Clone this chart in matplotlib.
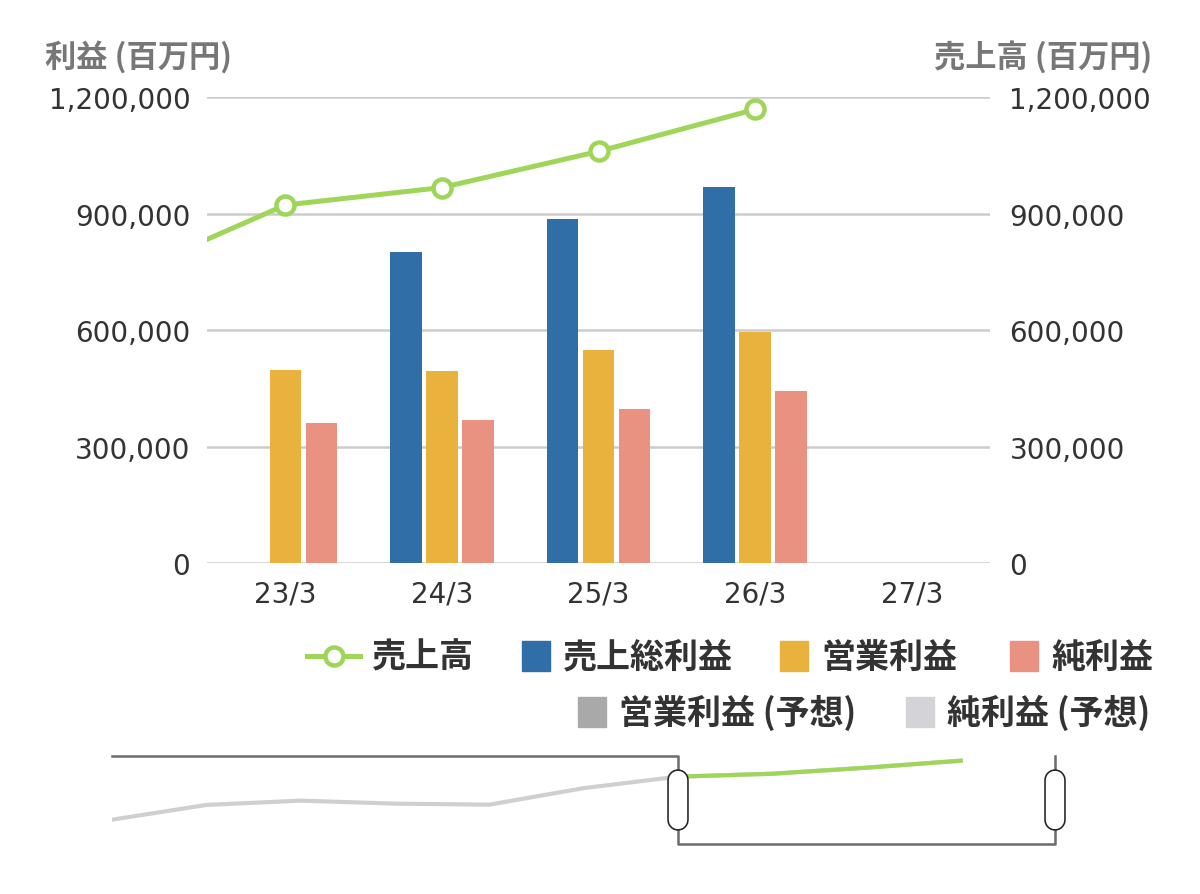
import numpy as np
import matplotlib
matplotlib.use("Agg")
import matplotlib.pyplot as plt
from matplotlib.patches import Rectangle
from matplotlib.lines import Line2D

plt.rcParams['font.family'] = ['Noto Sans CJK JP', 'DejaVu Sans']

# data (百万円)
categories = ["23/3", "24/3", "25/3", "26/3", "27/3"]
gross_profit = [np.nan, 801000, 885000, 969000, np.nan]
operating_profit = [498000, 494000, 548000, 595000, np.nan]
net_profit = [362000, 368000, 398000, 444000, np.nan]
# sales incl. earlier years shown in the navigator (17/3 .. 26/3)
sales_years = ["17/3", "18/3", "19/3", "20/3", "21/3", "22/3", "23/3", "24/3", "25/3", "26/3"]
sales = [260000, 487000, 553000, 507000, 491000, 745000, 922000, 967000, 1060000, 1168000]
yticks = [0, 300000, 600000, 900000, 1200000]

C_GROSS = "#2f6ea6"
C_OP = "#e9b23c"
C_NET = "#ea9281"
C_SALES = "#9fd65a"
C_OP_F = "#a9a9a9"
C_NET_F = "#d4d4d8"
GRID = "#cccccc"
W, H = 1200, 895
NUM_FONT = "DejaVu Sans"


def fx(px):
    return px / W


def fy(py):
    return 1 - py / H


fig = plt.figure(figsize=(12, 8.95), dpi=100)
ax = fig.add_axes([fx(207), fy(564.3), fx(990 - 207), (564.3 - 98) / H])
ax2 = ax.twinx()

x = np.arange(len(categories))
bw = 0.2
off = 0.23
ax.bar(x - off, gross_profit, bw, color=C_GROSS, zorder=3)
ax.bar(x, operating_profit, bw, color=C_OP, zorder=3)
ax.bar(x + off, net_profit, bw, color=C_NET, zorder=3)

ax.set_xlim(-0.5, len(categories) - 0.5)
ax.set_ylim(0, 1200000)
ax.set_yticks(yticks)
ax.set_yticklabels([f"{v:,}" for v in yticks], family=NUM_FONT)
ax.yaxis.grid(True, color=GRID, linewidth=1.8, zorder=0)
ax.set_axisbelow(True)
ax.set_xticks(x)
ax.set_xticklabels(categories, family=NUM_FONT)
for s in ax.spines.values():
    s.set_visible(False)
for s in ax2.spines.values():
    s.set_visible(False)
ax.tick_params(axis='y', length=0, pad=12, labelsize=20, labelcolor="#333333")
ax.tick_params(axis='x', length=0, pad=12, labelsize=20, labelcolor="#333333")

sx = np.arange(len(sales)) - sales_years.index("23/3")
ax2.plot(sx, sales, color=C_SALES, lw=3.6, marker='o', markersize=13,
         markerfacecolor='white', markeredgecolor=C_SALES, markeredgewidth=3.2,
         zorder=5, clip_on=True)
ax2.set_ylim(0, 1200000)
ax2.set_xlim(-0.5, len(categories) - 0.5)
ax2.set_yticks(yticks)
ax2.set_yticklabels([f"{v:,}" for v in yticks], family=NUM_FONT)
ax2.tick_params(axis='y', length=0, pad=14, labelsize=20, labelcolor="#333333")

fig.text(fx(45), fy(57), "利益 (百万円)", fontsize=22.5, color="#777777",
         fontweight='bold', ha='left', va='center')
fig.text(fx(1152), fy(57), "売上高 (百万円)", fontsize=22.5, color="#777777",
         fontweight='bold', ha='right', va='center')

# legend
lfs = 24.5
row1, row2 = 657, 713
fig.add_artist(Line2D([fx(307), fx(360)], [fy(row1), fy(row1)], color=C_SALES, lw=3.6))
fig.add_artist(Line2D([fx(333.5)], [fy(row1)], marker='o', markersize=13,
                      markerfacecolor='white', markeredgecolor=C_SALES, markeredgewidth=3.2))
fig.text(fx(372), fy(row1), "売上高", fontsize=lfs, fontweight='bold', color="#333333",
         ha='left', va='center')
items = [
    (522, row1, C_GROSS, "売上総利益"),
    (780, row1, C_OP, "営業利益"),
    (1010, row1, C_NET, "純利益"),
    (578, row2, C_OP_F, "営業利益 (予想)"),
    (906, row2, C_NET_F, "純利益 (予想)"),
]
for px, py, col, label in items:
    fig.add_artist(Rectangle((fx(px), fy(py + 15)), fx(28), 30 / H, color=col,
                             transform=fig.transFigure))
    fig.text(fx(px + 41), fy(py), label, fontsize=lfs, fontweight='bold',
             color="#333333", ha='left', va='center')

# navigator
nav = fig.add_axes([fx(112), fy(845), fx(1055 - 112), 88 / H])
nav.set_xlim(sx[0], len(categories) - 1)
nav.set_ylim(-114000, 1240000)
nav.axis('off')
nav.plot(sx, sales, color="#cfcfcf", lw=3, zorder=2)
sel = sx >= 0
nav.plot(sx[sel], np.array(sales)[sel], color=C_SALES, lw=3, zorder=3)
tr = nav.get_xaxis_transform()
oc = "#6b6b6b"
nav.plot([sx[0], 0, 0], [1, 1, 0.84], color=oc, lw=1.8, transform=tr, clip_on=False, zorder=4)
nav.plot([0, 0, 4, 4], [0.16, 0, 0, 0.16], color=oc, lw=1.8, transform=tr, clip_on=False, zorder=4)
nav.plot([4, 4], [1, 0.84], color=oc, lw=1.8, transform=tr, clip_on=False, zorder=4)
for hx in [0, 4]:
    nav.plot([hx, hx], [0.7216, 0.278], color="#222222", lw=15.5, solid_capstyle='round',
             transform=tr, clip_on=False, zorder=6)
    nav.plot([hx, hx], [0.7216, 0.278], color="white", lw=13.2, solid_capstyle='round',
             transform=tr, clip_on=False, zorder=7)

fig.savefig("out.png", dpi=100, facecolor="white")
